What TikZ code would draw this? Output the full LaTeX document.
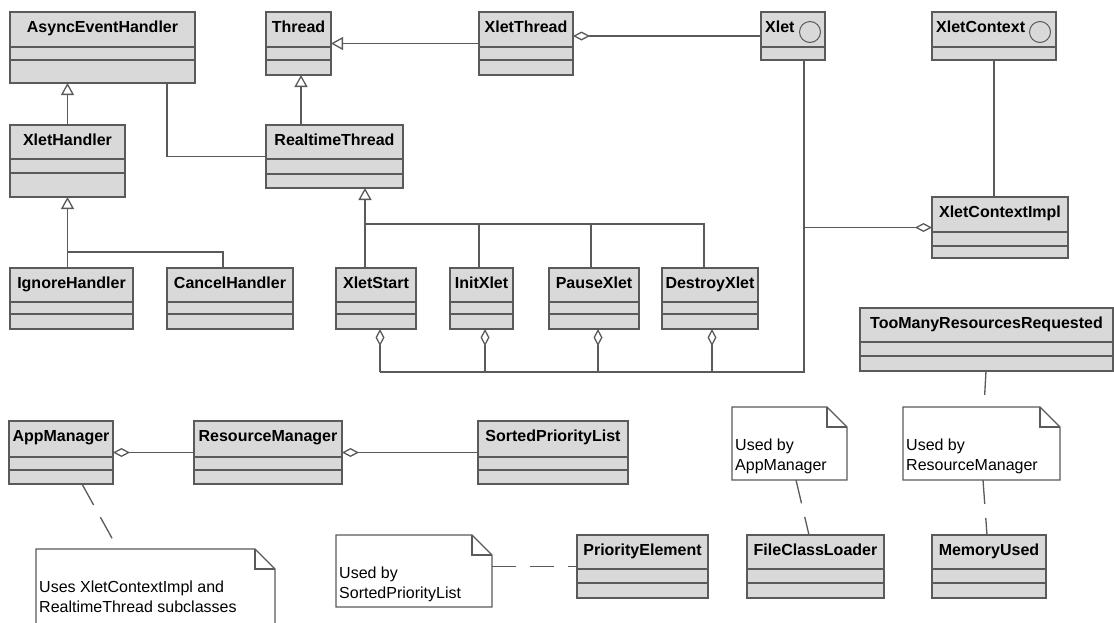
\documentclass[tikz,border=0pt]{standalone}
\usepackage{fontspec}
\setmainfont{Liberation Sans}
\usetikzlibrary{arrows.meta,calc}

\definecolor{umlfill}{HTML}{D9D9D9}
\definecolor{umlline}{HTML}{5A5A5A}

\tikzset{
  classbox/.style={rectangle, draw=umlline, fill=umlfill, line width=1.3pt, inner sep=0pt, outer sep=0pt},
  divider/.style={draw=umlline, line width=1.3pt},
  classname/.style={font=\bfseries\fontsize{16}{19}\selectfont, inner sep=0pt},
  notearea/.style={rectangle, draw=none, inner sep=0pt, outer sep=0pt},
  notebox/.style={draw=umlline, fill=white, line width=1.3pt, line join=miter},
  notetext/.style={font=\fontsize{16}{19}\selectfont, anchor=base west, inner sep=0pt},
  link/.style={draw=umlline, line width=1.3pt},
  inherit/.style={link, -{Triangle[length=12pt,width=13pt,fill=white]}},
  aggr/.style={link, -{Diamond[length=17pt,width=9pt,fill=white]}},
  dep/.style={link, dash pattern=on 24pt off 14pt},
}

% class with name, attribute and operation compartments
% #1 name, #2 x1, #3 y1, #4 x2, #5 y2, #6 first divider, #7 second divider, #8 label
\newcommand{\umlclass}[8]{%
  \node[classbox, minimum width={#4pt-#2pt}, minimum height={#5pt-#3pt}] (#1) at ({(#2+#4)/2},{(#3+#5)/2}) {};
  \draw[divider] (#2,#6) -- (#4,#6) (#2,#7) -- (#4,#7);
  \node[classname, anchor=base] (#1-name) at ({(#2+#4)/2},#3+20) {#8};
}

% interface with name and one compartment, lollipop circle in the title
% #1 name, #2 x1, #3 y1, #4 x2, #5 y2, #6 divider, #7 label, #8 circle x
\newcommand{\umliface}[8]{%
  \node[classbox, minimum width={#4pt-#2pt}, minimum height={#5pt-#3pt}] (#1) at ({(#2+#4)/2},{(#3+#5)/2}) {};
  \draw[divider] (#2,#6) -- (#4,#6);
  \node[classname, anchor=base west] (#1-name) at (#2+4,#3+20) {#7};
  \draw[link, line width=1pt] (#8,#3+20) circle[radius=10.5pt];
}

% note with folded corner
% #1 name, #2 x1, #3 y1, #4 x2, #5 y2, #6 first line, #7 second line
\newcommand{\umlnote}[7]{%
  \node[notearea, minimum width={#4pt-#2pt}, minimum height={#5pt-#3pt}] (#1) at ({(#2+#4)/2},{(#3+#5)/2}) {};
  \filldraw[notebox] (#1.north west) -- ($(#1.north east)+(-20,0)$) -- ($(#1.north east)+(0,20)$)
    -- (#1.south east) -- (#1.south west) -- cycle;
  \draw[notebox, fill=none] ($(#1.north east)+(-20,0)$) -- ($(#1.north east)+(-20,20)$) -- ($(#1.north east)+(0,20)$);
  \node[notetext] (#1-a) at (#2+3,#3+43) {#6};
  \node[notetext] (#1-b) at (#2+3,#3+63) {#7};
}

\begin{document}
\begin{tikzpicture}[x=1pt, y=-1pt]
\useasboundingbox (0,0) rectangle (1114,622);
\clip (0,0) rectangle (1114,622);
\fill[white] (0,0) rectangle (1114,622);

% ---- classes ----
\umlclass{AsyncEventHandler}{10}{12}{195}{83}{47}{60}{AsyncEventHandler}
\umlclass{Thread}{266}{12}{331}{75}{47}{60}{Thread}
\umlclass{XletThread}{479}{12}{573}{75}{47}{60}{XletThread}
\umliface{Xlet}{761}{12}{825}{60}{47}{Xlet}{810}
\umliface{XletContext}{932}{12}{1056}{60}{47}{XletContext}{1040}
\umlclass{XletHandler}{10}{125}{125}{197}{159}{173}{XletHandler}
\umlclass{RealtimeThread}{266}{125}{403}{188}{159}{174}{RealtimeThread}
\umlclass{XletContextImpl}{932}{197}{1068}{258}{232}{246}{XletContextImpl}
\umlclass{IgnoreHandler}{10}{268}{133}{329}{302}{314}{IgnoreHandler}
\umlclass{CancelHandler}{167}{268}{293}{329}{302}{314}{CancelHandler}
\umlclass{XletStart}{336}{268}{416}{329}{302}{314}{XletStart}
\umlclass{InitXlet}{450}{268}{513}{329}{302}{314}{InitXlet}
\umlclass{PauseXlet}{549}{268}{639}{329}{302}{314}{PauseXlet}
\umlclass{DestroyXlet}{662}{268}{758}{329}{302}{314}{DestroyXlet}
\umlclass{TooMany}{860}{308}{1113}{371}{342}{356}{TooManyResourcesRequested}
\umlclass{AppManager}{9}{421}{113}{484}{457}{470}{AppManager}
\umlclass{ResourceManager}{194}{421}{342}{484}{457}{470}{ResourceManager}
\umlclass{SortedPriorityList}{478}{421}{628}{484}{457}{470}{SortedPriorityList}
\umlclass{PriorityElement}{577}{535}{708}{598}{569}{583}{PriorityElement}
\umlclass{FileClassLoader}{747}{535}{884}{598}{569}{583}{FileClassLoader}
\umlclass{MemoryUsed}{932}{535}{1046}{598}{569}{583}{MemoryUsed}

% ---- notes ----
\umlnote{noteUses}{36}{549}{275}{640}{Uses XletContextImpl and}{RealtimeThread subclasses}
\umlnote{noteSorted}{336}{535}{492}{607}{Used by}{SortedPriorityList}
\umlnote{noteApp}{732}{407}{847}{480}{Used by}{AppManager}
\umlnote{noteRes}{903}{407}{1060}{480}{Used by}{ResourceManager}

% ---- junction points ----
\coordinate (aehA) at ($(AsyncEventHandler.south west)+(157,0)$);
\coordinate (thrIn) at ($(Thread.south west)+(35,0)$);
\coordinate (xletDown) at ($(Xlet.south west)+(43,0)$);
\coordinate (busEnd) at ($(XletStart.south west)+(44,43)$);
\coordinate (iniA) at ($(InitXlet.south west)+(35,0)$);
\coordinate (pauA) at ($(PauseXlet.south west)+(49,0)$);
\coordinate (desA) at ($(DestroyXlet.south west)+(50,0)$);
\coordinate (rtIn) at ($(RealtimeThread.south west)+(99,0)$);
\coordinate (rtBar) at ($(rtIn)+(0,36)$);
\coordinate (iniB) at ($(InitXlet.north west)+(29,0)$);
\coordinate (pauB) at ($(PauseXlet.north west)+(42,0)$);
\coordinate (desB) at ($(DestroyXlet.north west)+(42,0)$);
\coordinate (xhBar) at ($(XletHandler.south)+(0,55)$);
\coordinate (chA) at ($(CancelHandler.north west)+(56,0)$);

% ---- generalisations ----
\draw[inherit] (XletHandler.north) -- (XletHandler.north |- AsyncEventHandler.south);
\draw[inherit] (thrIn |- RealtimeThread.north) -- (thrIn);
\draw[inherit] (XletThread.west |- Thread.east) -- (Thread.east);
\draw[inherit] (IgnoreHandler.north -| XletHandler.south) -- (XletHandler.south);
\draw[link] (xhBar) -| (chA);
\draw[inherit] (XletStart.north -| rtIn) -- (rtIn);
\draw[link] (rtBar) -| (desB);
\draw[link] (rtBar -| iniB) -- (iniB);
\draw[link] (rtBar -| pauB) -- (pauB);

% ---- associations ----
\draw[link] (aehA) |- (RealtimeThread.west);
\draw[aggr] (Xlet.west) -- (Xlet.west -| XletThread.east);
\draw[link] (XletContext.south) -- (XletContext.south |- XletContextImpl.north);
\draw[link] (xletDown) |- (busEnd);
\draw[aggr] (XletContextImpl.west -| xletDown) -- (XletContextImpl.west);
\draw[aggr] (busEnd) -- (busEnd |- XletStart.south);
\draw[aggr] (iniA |- busEnd) -- (iniA);
\draw[aggr] (pauA |- busEnd) -- (pauA);
\draw[aggr] (desA |- busEnd) -- (desA);
\draw[aggr] (ResourceManager.west) -- (ResourceManager.west -| AppManager.east);
\draw[aggr] (SortedPriorityList.west) -- (SortedPriorityList.west -| ResourceManager.east);

% ---- note anchors ----
\draw[dep] ($(AppManager.south west)+(73,0)$) -- ($(noteUses.north west)+(82,0)$);
\draw[dep] (noteSorted.east |- PriorityElement.west) -- (PriorityElement.west);
\draw[dep] ($(noteApp.south west)+(64,0)$) -- ($(FileClassLoader.north west)+(62,0)$);
\draw[dep] ($(TooMany.south west)+(126,0)$) -- ($(noteRes.north west)+(81,0)$);
\draw[dep] ($(noteRes.south west)+(80,0)$) -- ($(MemoryUsed.north west)+(55,0)$);
\end{tikzpicture}
\end{document}
